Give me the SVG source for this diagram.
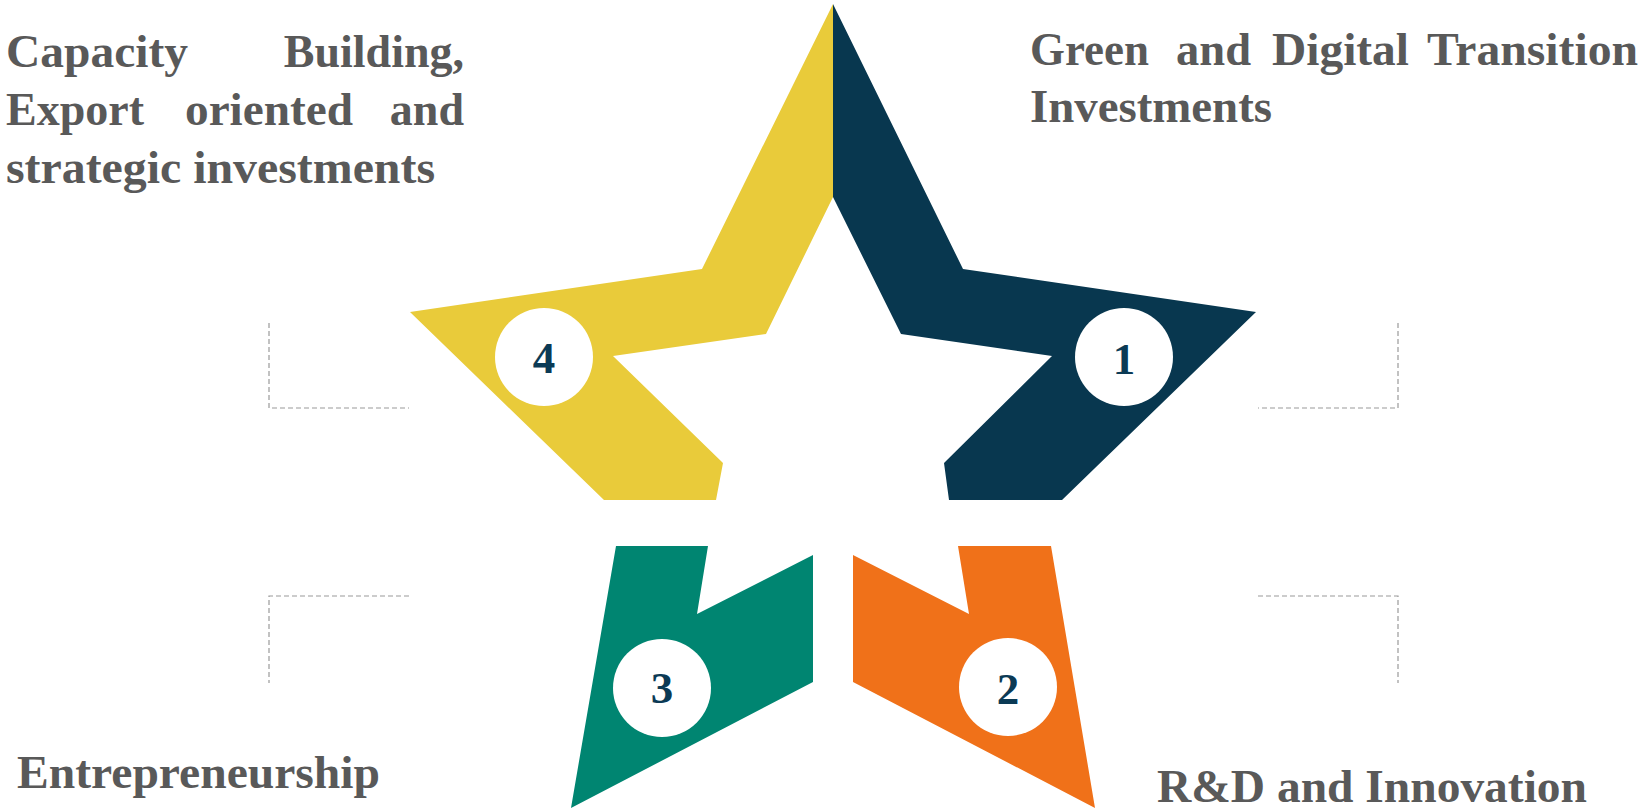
<svg xmlns="http://www.w3.org/2000/svg" width="1651" height="811" viewBox="0 0 1651 811">
  <style>
    .lbl { font-family: "Liberation Serif", "Times New Roman", serif; font-weight: bold; font-size: 46px; fill: #595959; }
    .num { font-family: "Liberation Serif", "Times New Roman", serif; font-weight: bold; font-size: 45px; fill: #0b3a55; text-anchor: middle; }
    .dash { fill: none; stroke: #9a9a9a; stroke-width: 1.2; stroke-dasharray: 5 3; }
    .disc { fill: #ffffff; }
  </style>
  <rect width="1651" height="811" fill="#ffffff"/>

  <g id="connectors">
    <path class="dash" d="M269,323 V408 H409"/>
    <path class="dash" d="M409,596 H269 V683"/>
    <path class="dash" d="M1398,323 V408 H1258"/>
    <path class="dash" d="M1258,596 H1398 V683"/>
  </g>

  <g id="node-4">
    <polygon fill="#e9cb3a" points="833,4 833,197 766,334 613,356 723,463 716,500 604,500 410,312 702,269"/>
    <circle class="disc" cx="544" cy="357" r="49"/>
    <text class="num" x="544" y="373">4</text>
  </g>

  <g id="node-1">
    <polygon fill="#08374f" points="833,4 963,269 1256,312 1062,500 949,500 944,463 1052,356 901,334 833,197"/>
    <circle class="disc" cx="1124" cy="357" r="49"/>
    <text class="num" x="1124" y="374">1</text>
  </g>

  <g id="node-3">
    <polygon fill="#008571" points="616,546 708,546 697,614 813,555 813,682 571,808"/>
    <circle class="disc" cx="662" cy="688" r="49"/>
    <text class="num" x="662" y="703">3</text>
  </g>

  <g id="node-2">
    <polygon fill="#f07119" points="853,555 969,614 958,546 1051,546 1095,808 853,682"/>
    <circle class="disc" cx="1008" cy="687" r="49"/>
    <text class="num" x="1008" y="704">2</text>
  </g>

  <g id="label-4">
    <text class="lbl" x="6" y="67" textLength="182" lengthAdjust="spacingAndGlyphs">Capacity</text>
    <text class="lbl" x="464" y="67" text-anchor="end">Building,</text>
    <text class="lbl" x="6" y="125">Export</text>
    <text class="lbl" x="185" y="125" textLength="168" lengthAdjust="spacingAndGlyphs">oriented</text>
    <text class="lbl" x="464" y="125" text-anchor="end">and</text>
    <text class="lbl" x="6" y="183" textLength="429" lengthAdjust="spacingAndGlyphs">strategic investments</text>
  </g>

  <g id="label-1">
    <text class="lbl" x="1030" y="65" textLength="119" lengthAdjust="spacingAndGlyphs">Green</text>
    <text class="lbl" x="1176" y="65" textLength="75" lengthAdjust="spacingAndGlyphs">and</text>
    <text class="lbl" x="1272" y="65" textLength="137" lengthAdjust="spacingAndGlyphs">Digital</text>
    <text class="lbl" x="1427" y="65" textLength="211" lengthAdjust="spacingAndGlyphs">Transition</text>
    <text class="lbl" x="1030" y="122" textLength="242" lengthAdjust="spacingAndGlyphs">Investments</text>
  </g>

  <g id="label-3">
    <text class="lbl" x="17" y="788" textLength="363" lengthAdjust="spacingAndGlyphs">Entrepreneurship</text>
  </g>

  <g id="label-2">
    <text class="lbl" x="1157" y="802" textLength="430" lengthAdjust="spacingAndGlyphs">R&amp;D and Innovation</text>
  </g>
</svg>
